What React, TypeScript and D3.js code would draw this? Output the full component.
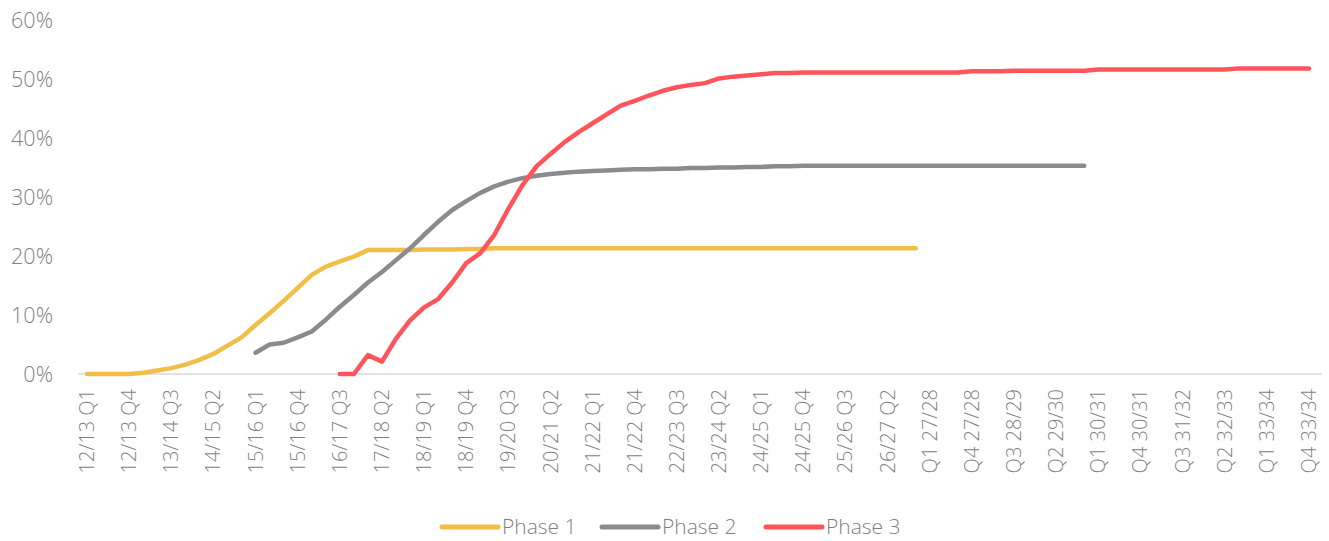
import React from "react";
import * as d3 from "d3";

// ---- Data ----
const fyStartYears = d3.range(12, 34); // 12/13 ... 33/34
const quarters = ["Q1", "Q2", "Q3", "Q4"];
const categories: string[] = [];
fyStartYears.forEach((y) => {
  quarters.forEach((q) => {
    const fy = `${y}/${y + 1}`;
    categories.push(y < 27 ? `${fy} ${q}` : `${q} ${fy}`);
  });
});

const yTicks = [0, 10, 20, 30, 40, 50, 60];

const phase1Start = 0;
const phase1 = [
  0, 0, 0, 0, 0.2, 0.6, 1.0, 1.6, 2.4, 3.4,
  4.8, 6.2, 8.3, 10.3, 12.4, 14.6, 16.8, 18.2, 19.1, 19.9,
  21.0, 21.0, 21.0, 21.0, 21.1, 21.1, 21.1, 21.2, 21.2, 21.3,
  21.3, 21.3, 21.3, 21.3, 21.3, 21.3, 21.3, 21.3, 21.3, 21.3,
  21.3, 21.3, 21.3, 21.3, 21.3, 21.3, 21.3, 21.3, 21.3, 21.3,
  21.3, 21.3, 21.3, 21.3, 21.3, 21.3, 21.3, 21.3, 21.3, 21.3,
];

const phase2Start = 12;
const phase2 = [
  3.6, 5.0, 5.3, 6.2, 7.2, 9.2, 11.4, 13.4, 15.5, 17.3,
  19.3, 21.3, 23.6, 25.8, 27.8, 29.3, 30.7, 31.8, 32.6, 33.2,
  33.6, 33.9, 34.1, 34.3, 34.4, 34.5, 34.6, 34.7, 34.7, 34.8,
  34.8, 34.9, 34.9, 35.0, 35.0, 35.1, 35.1, 35.2, 35.2, 35.3,
  35.3, 35.3, 35.3, 35.3, 35.3, 35.3, 35.3, 35.3, 35.3, 35.3,
  35.3, 35.3, 35.3, 35.3, 35.3, 35.3, 35.3, 35.3, 35.3, 35.3,
];

const phase3Start = 18;
const phase3 = [
  0, 0, 3.2, 2.1, 6.0, 9.1, 11.3, 12.7, 15.5, 18.8,
  20.5, 23.6, 28.0, 32.0, 35.2, 37.3, 39.3, 41.0, 42.5, 44.0,
  45.5, 46.3, 47.2, 48.0, 48.6, 49.0, 49.3, 50.1, 50.4, 50.6,
  50.8, 51.0, 51.0, 51.1, 51.1, 51.1, 51.1, 51.1, 51.1, 51.1,
  51.1, 51.1, 51.1, 51.1, 51.1, 51.3, 51.3, 51.3, 51.4, 51.4,
  51.4, 51.4, 51.4, 51.4, 51.6, 51.6, 51.6, 51.6, 51.6, 51.6,
  51.6, 51.6, 51.6, 51.6, 51.8, 51.8, 51.8, 51.8, 51.8, 51.8,
];

const seriesNames = ["Phase 1", "Phase 2", "Phase 3"];
const seriesColors = ["#F1BE48", "#898B8E", "#FF5459"];

type Pt = { i: number; v: number };
const toPoints = (vals: number[], start: number): Pt[] =>
  vals.map((v, k) => ({ i: start + k, v }));

const series = [
  toPoints(phase1, phase1Start),
  toPoints(phase2, phase2Start),
  toPoints(phase3, phase3Start),
];

export default function App() {
  const W = 1329;
  const H = 541;
  const x = d3.scaleBand<number>().domain(d3.range(categories.length)).range([80, 1316]).padding(0);
  const y = d3.scaleLinear().domain([0, 60]).range([374, 20]);
  const cx = (i: number) => (x(i) as number) + x.bandwidth() / 2;
  const line = d3
    .line<Pt>()
    .x((d) => cx(d.i))
    .y((d) => y(d.v));

  const font = "'Open Sans', 'Segoe UI', sans-serif";
  const textColor = "#7F7F7F";

  const legendItems = [
    { name: seriesNames[0], color: seriesColors[0], lx: 442 },
    { name: seriesNames[1], color: seriesColors[1], lx: 602 },
    { name: seriesNames[2], color: seriesColors[2], lx: 766 },
  ];

  return (
    <svg
      width={W}
      height={H}
      style={{ position: "absolute", left: 0, top: 0, background: "#fff" }}
      fontFamily={font}
    >
      {/* y tick labels */}
      {yTicks.map((t) => (
        <text
          key={t}
          x={53}
          y={y(t)}
          dy="0.35em"
          textAnchor="end"
          fontSize={21.5}
          fontWeight={300}
          fill={textColor}
        >
          {t}%
        </text>
      ))}
      {/* baseline */}
      <line
        x1={x.range()[0] - 2}
        x2={x.range()[1] + 6}
        y1={y(0)}
        y2={y(0)}
        stroke="#D9D9D9"
        strokeWidth={1.5}
      />
      {/* x tick labels every 3 quarters */}
      {categories.map((c, i) =>
        i % 3 === 0 ? (
          <text
            key={c}
            transform={`translate(${cx(i)},${389}) rotate(-90)`}
            textAnchor="end"
            dy="0.35em"
            fontSize={20}
            fontWeight={300}
            fill={textColor}
          >
            {c}
          </text>
        ) : null
      )}
      {/* series */}
      {series.map((s, k) => (
        <path
          key={k}
          d={line(s) || ""}
          fill="none"
          stroke={seriesColors[k]}
          strokeWidth={4.5}
          strokeLinecap="round"
          strokeLinejoin="round"
        />
      ))}
      {/* legend */}
      {legendItems.map((it) => (
        <g key={it.name} transform={`translate(${it.lx},${527})`}>
          <line x1={0} x2={56} y1={0} y2={0} stroke={it.color} strokeWidth={5} strokeLinecap="round" />
          <text x={60} y={0} dy="0.35em" fontSize={21} fontWeight={300} fill={textColor}>
            {it.name}
          </text>
        </g>
      ))}
    </svg>
  );
}
